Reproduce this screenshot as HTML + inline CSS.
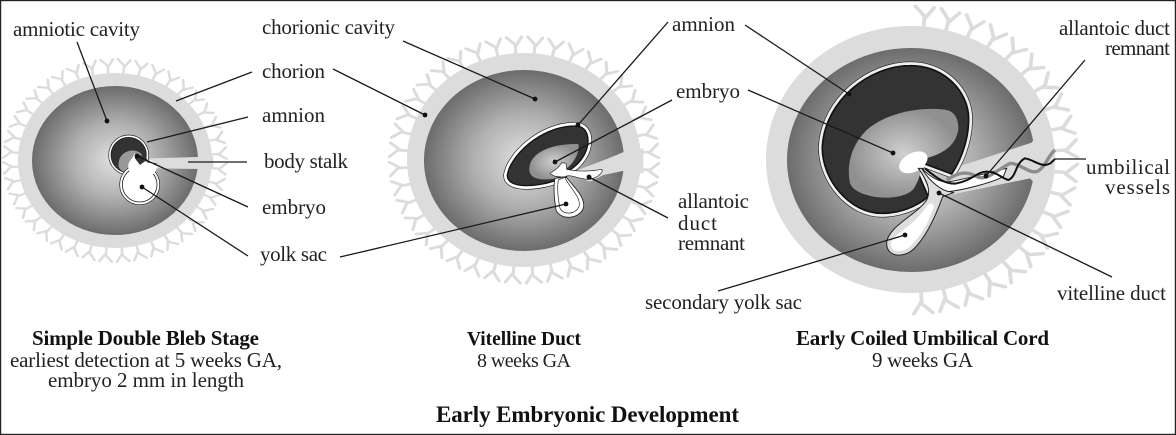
<!DOCTYPE html>
<html><head><meta charset="utf-8"><style>
html,body{margin:0;padding:0;background:#fff}
svg{display:block}
text{font-family:"Liberation Serif",serif;font-size:21px;fill:#222}
.b{font-weight:bold;fill:#111}
.l{stroke:#1a1a1a;stroke-width:1.3;fill:none}
.d{fill:#111}
</style></head><body>
<svg width="1176" height="435" viewBox="0 0 1176 435" xmlns="http://www.w3.org/2000/svg">
<defs>
<radialGradient id="g"><stop offset="0" stop-color="#e2e2e2"/><stop offset=".5" stop-color="#b0b0b0"/><stop offset="1" stop-color="#6c6c6c"/></radialGradient>
<radialGradient id="g2"><stop offset="0" stop-color="#d0d0d0"/><stop offset="1" stop-color="#909090"/></radialGradient>
<g id="v" fill="none" stroke="#dcdcdc" stroke-width="2.6" stroke-linecap="round"><path d="M0 -98V-108L-7 -115M0 -106L6 -115"/></g>
<g id="h"><use href="#v" transform="rotate(5)"/><use href="#v" transform="rotate(14)"/><use href="#v" transform="rotate(23)"/><use href="#v" transform="rotate(32)"/><use href="#v" transform="rotate(41)"/><use href="#v" transform="rotate(50)"/><use href="#v" transform="rotate(59)"/><use href="#v" transform="rotate(68)"/><use href="#v" transform="rotate(77)"/><use href="#v" transform="rotate(86)"/><use href="#v" transform="rotate(95)"/><use href="#v" transform="rotate(104)"/><use href="#v" transform="rotate(113)"/><use href="#v" transform="rotate(122)"/><use href="#v" transform="rotate(131)"/><use href="#v" transform="rotate(140)"/><use href="#v" transform="rotate(149)"/><use href="#v" transform="rotate(158)"/><use href="#v" transform="rotate(167)"/><use href="#v" transform="rotate(176)"/></g>
</defs>
<rect x="0.5" y="0.5" width="1175" height="434" fill="#fff" stroke="#222" stroke-width="1.4"/>

<!-- LEFT -->
<g transform="translate(115,160.5) scale(.97,.88)"><use href="#h"/><use href="#h" transform="rotate(180)"/></g>
<ellipse cx="115" cy="160.5" rx="97" ry="87.5" fill="#dcdcdc"/>
<ellipse cx="115" cy="160.5" rx="83" ry="74.5" fill="url(#g)"/>
<g transform="translate(0,60) scale(.33333)">
<path d="M640 288 L594 291 L450 295 L440 310 L470 325 L598 327 L640 327Z" fill="#dcdcdc"/>
<circle cx="386" cy="285" r="60" fill="#fff" stroke="#222" stroke-width="2"/>
<circle cx="386" cy="285" r="53" fill="#333" stroke="#111" stroke-width="2"/>
<path d="M356 320 C352 290 375 268 405 272 C425 276 432 290 425 300 L400 335 C385 340 362 338 356 320Z" fill="#999"/>
<circle cx="419" cy="374" r="60" fill="#fff" stroke="#222" stroke-width="2"/>
<circle cx="419" cy="374" r="52" fill="#fff" stroke="#222" stroke-width="2.5"/>
<path d="M385 312 C392 297 398 297 402 282 C412 280 418 290 420 300 L440 306 L452 300 L475 316 L462 342 L400 347 L385 330Z" fill="#fff"/>
<path d="M405 285 C415 280 435 290 442 298 L420 315 L405 295Z" fill="#333"/>
<path d="M440 305 L470 312" stroke="#222" stroke-width="3" fill="none"/>
</g>
<path class="l" d="M77 42L107 121M252 72L176 101M248 117L147 142M247 162H188M248 207L137 156M248 256L142 187"/>
<circle class="d" cx="107" cy="121" r="2.4"/><circle class="d" cx="137" cy="156" r="2.4"/><circle class="d" cx="142" cy="187" r="2.4"/>

<!-- MIDDLE -->
<g transform="translate(524,160) scale(1.17,1.07)"><use href="#h"/><use href="#h" transform="rotate(180)"/></g>
<ellipse cx="524" cy="160" rx="117" ry="107" fill="#dcdcdc"/>
<ellipse cx="524" cy="160.5" rx="100" ry="90.5" fill="url(#g)"/>
<g transform="translate(390,40) scale(.33333)">
<path d="M760 325 L703 335 C660 355 600 375 560 392 L540 405 L600 425 L640 405 L703 392 L760 400Z" fill="#dcdcdc"/>
<path d="M352 405 C360 350 450 258 555 258 C600 258 600 310 585 340 C570 370 550 385 530 395 L500 420 C450 440 350 450 352 405Z" fill="#fff" stroke="#222" stroke-width="24" stroke-linejoin="round"/>
<path d="M352 405 C360 350 450 258 555 258 C600 258 600 310 585 340 C570 370 550 385 530 395 L500 420 C450 440 350 450 352 405Z" fill="#fff" stroke="#fff" stroke-width="20" stroke-linejoin="round"/>
<path d="M352 405 C360 350 450 258 555 258 C600 258 600 310 585 340 C570 370 550 385 530 395 L500 420 C450 440 350 450 352 405Z" fill="#333" stroke="#111" stroke-width="4" stroke-linejoin="round"/>
<path d="M418 385 C420 340 480 310 565 312 C570 340 550 370 530 385 L500 415 C460 422 415 420 418 385Z" fill="url(#g2)"/>
<path d="M495 415 C488 445 495 490 498 510 C510 540 565 540 580 505 C590 470 540 430 530 412Z" fill="#fff" stroke="#222" stroke-width="2.5"/>
<path d="M505 420 C500 450 507 490 510 505 C520 525 555 525 567 500 C575 470 535 440 525 412Z" fill="#fff" stroke="#222" stroke-width="2"/>
<path d="M480 400 C495 390 505 385 515 368 L528 370 L530 388 C560 395 600 395 635 388 C642 395 625 412 600 418 C570 420 540 400 525 410 C510 412 490 410 480 400Z" fill="#fff" stroke="#222" stroke-width="2"/>
</g>
<path class="l" d="M403 41L535 99M333 69L425 115M668 22L578 125M672 100L555 162M668 218L589 177M340 257L566 204"/>
<circle class="d" cx="535" cy="99" r="2.4"/><circle class="d" cx="425" cy="115" r="2.4"/><circle class="d" cx="578" cy="125" r="2.4"/><circle class="d" cx="555" cy="162" r="2.4"/><circle class="d" cx="589" cy="177" r="2.4"/><circle class="d" cx="566" cy="204" r="2.4"/>

<!-- RIGHT -->
<g transform="translate(911,160) scale(1.445,1.335)"><use href="#h"/></g>
<ellipse cx="910.5" cy="159.5" rx="144.5" ry="133.5" fill="#dcdcdc"/>
<ellipse cx="911" cy="160" rx="124" ry="112" fill="url(#g)"/>
<g transform="translate(750,0) scale(.33333)">
<path d="M880 395 L855 412 L845 428 L625 500 L575 590 L840 535 L850 545 L880 550Z" fill="#dcdcdc"/>
<path d="M520 490 L605 522 C640 470 660 400 655 340 C645 260 570 195 480 197 C360 197 225 300 217 440 C215 540 300 640 395 640 C450 640 500 620 535 590 L500 510Z" fill="#fff" stroke="#222" stroke-width="25" stroke-linejoin="round"/>
<path d="M520 490 L605 522 C640 470 660 400 655 340 C645 260 570 195 480 197 C360 197 225 300 217 440 C215 540 300 640 395 640 C450 640 500 620 535 590 L500 510Z" fill="#fff" stroke="#eee" stroke-width="21" stroke-linejoin="round"/>
<path d="M520 490 L605 522 C640 470 660 400 655 340 C645 260 570 195 480 197 C360 197 225 300 217 440 C215 540 300 640 395 640 C450 640 500 620 535 590 L500 510Z" fill="#333" stroke="#111" stroke-width="5" stroke-linejoin="round"/>
<path d="M525 475 C570 465 620 440 625 385 C625 350 610 335 590 330 C530 320 420 330 350 390 C300 440 290 500 300 550 C320 600 470 610 495 560 C510 530 515 520 505 505Z" fill="url(#g2)"/>
<ellipse cx="490" cy="487" rx="46" ry="28" transform="rotate(-28 490 487)" fill="#fff"/>
<path d="M505 505 C530 540 545 570 530 600 C500 645 412 680 410 730 C410 772 460 775 490 748 C530 710 560 640 578 590 L610 578 C560 565 530 530 518 505Z" fill="#ddd" stroke="#222" stroke-width="3"/>
<path d="M423 730 C430 700 490 680 525 625 C540 600 558 610 548 630 C530 680 510 710 480 740 C455 762 418 755 423 730Z" fill="#fff"/>
<path d="M515 505 C540 530 570 550 600 545 C680 530 740 510 770 505 L760 530 C720 550 640 570 595 575 C560 565 530 530 515 505Z" fill="#fff" stroke="#222" stroke-width="3"/>
<path d="M590 540 C620 520 650 510 680 530 C710 545 740 510 780 490 C810 490 835 520 860 515 C885 505 895 465 915 450" fill="none" stroke="#8c8c8c" stroke-width="10"/>
<path d="M525 505 C560 535 590 555 620 550 C670 540 680 515 710 515 C740 515 755 535 775 540 C800 530 795 490 825 475 C850 480 865 495 885 495 C905 492 905 485 915 477" fill="none" stroke="#111" stroke-width="6"/>
</g>
<path class="l" d="M745 25L849 94M748 90L893 153M718 291L905 235M1112 277L939 193M1085 60L986 176M1086 159H1055"/>
<circle class="d" cx="849" cy="94" r="2.4"/><circle class="d" cx="893" cy="153" r="2.4"/><circle class="d" cx="905" cy="235" r="2.4"/><circle class="d" cx="939" cy="193" r="2.4"/><circle class="d" cx="986" cy="176" r="2.4"/>

<!-- LABELS -->
<g transform="translate(0,1)">
<text x="13" y="35" textLength="127">amniotic cavity</text>
<text x="262" y="33" textLength="133">chorionic cavity</text>
<text x="262" y="77" textLength="63">chorion</text>
<text x="262" y="121" textLength="63">amnion</text>
<text x="264" y="167" textLength="84">body stalk</text>
<text x="262" y="213" textLength="64">embryo</text>
<text x="260" y="260" textLength="67">yolk sac</text>
<text x="672" y="30" textLength="63">amnion</text>
<text x="676" y="97" textLength="64">embryo</text>
<text x="678" y="207" textLength="71">allantoic</text>
<text x="678" y="229" textLength="39">duct</text>
<text x="678" y="249" textLength="67">remnant</text>
<text x="1059" y="34" textLength="111">allantoic duct</text>
<text x="1105" y="54" textLength="65">remnant</text>
<text x="1086" y="173" textLength="84">umbilical</text>
<text x="1105" y="193" textLength="65">vessels</text>
<text x="1057" y="299" textLength="109">vitelline duct</text>
<text x="645" y="308" textLength="157">secondary yolk sac</text>
<text class="b" x="32" y="344" textLength="227">Simple Double Bleb Stage</text>
<text x="10" y="366" textLength="272">earliest detection at 5 weeks GA,</text>
<text x="48" y="386" textLength="196">embryo 2 mm in length</text>
<text class="b" x="467" y="344" textLength="114" style="font-size:19.5px">Vitelline Duct</text>
<text x="477" y="366" textLength="94" style="font-size:20px">8 weeks GA</text>
<text class="b" x="796" y="344" textLength="253">Early Coiled Umbilical Cord</text>
<text x="872" y="366" textLength="101">9 weeks GA</text>
<text class="b" x="436" y="421" textLength="303" style="font-size:23px">Early Embryonic Development</text>
</g>
</svg>
</body></html>
